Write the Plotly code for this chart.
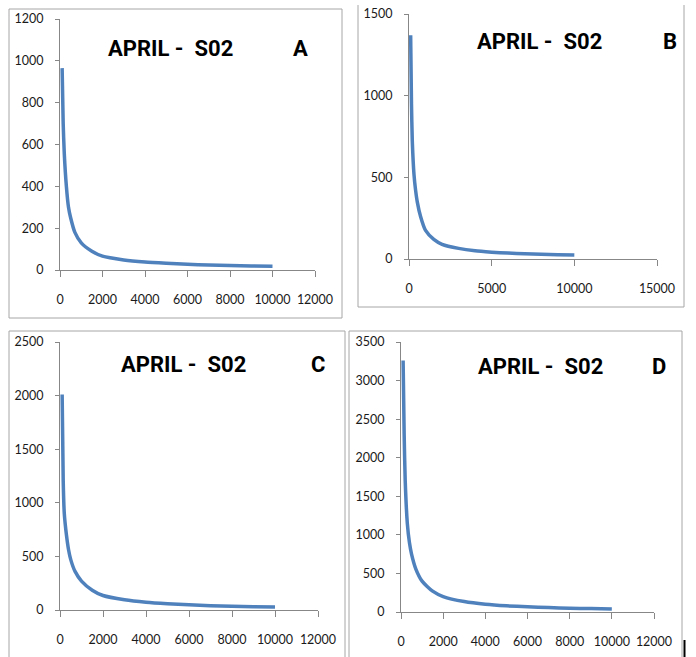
import plotly.graph_objects as go

W, H = 696, 657

# ---- data ----
rank = [100, 150, 200, 300, 400, 500, 700, 1000, 1500, 2000, 3000, 4000, 5000, 6000, 7000, 8000, 9000, 10000]
values_A = [965, 700, 560, 400, 300, 250, 180, 130, 90, 66, 48, 38, 32, 27, 24, 21, 19, 18]
values_B = [1370, 950, 720, 520, 420, 350, 260, 175, 120, 90, 65, 50, 42, 36, 32, 29, 26, 24]
values_C = [2010, 1200, 900, 700, 560, 470, 360, 270, 185, 135, 95, 72, 58, 48, 40, 35, 30, 27]
values_D = [3260, 2300, 1700, 1150, 900, 750, 560, 400, 270, 200, 135, 100, 80, 67, 57, 50, 44, 38]
panel_labels = ["A", "B", "C", "D"]
title_text = "APRIL -\u00a0\u00a0S02"

x_ranges = [[0, 12000], [0, 15000], [0, 12000], [0, 12000]]
x_dticks = [2000, 5000, 2000, 2000]
y_ranges = [[0, 1200], [0, 1500], [0, 2500], [0, 3500]]
y_dticks = [200, 500, 500, 500]

# ---- layout geometry (pixels) ----
px = lambda v: v / W
py = lambda v: 1 - v / H
plot_boxes = [  # left, right, top, bottom in pixels
    (60, 315, 19, 270),
    (409, 657, 14, 259),
    (60, 318, 342, 610),
    (401, 654, 342, 612),
]
title_pos = [(170, 48), (539, 41), (183, 364), (540, 366)]
letter_pos = [(300, 48), (670, 41), (318, 364), (659, 366)]

LINE = "#4F81BD"
AXIS = "#878787"
BORDER = "#A6A6A6"
TICKFONT = dict(family="Lato, Open Sans, sans-serif", size=12.5, color="#1a1a1a")
TITLEFONT = dict(family="Roboto, sans-serif", size=22, color="#000000")

fig = go.Figure()
series = [values_A, values_B, values_C, values_D]
layout = {}
for i, (vals, box) in enumerate(zip(series, plot_boxes)):
    n = "" if i == 0 else str(i + 1)
    fig.add_trace(go.Scatter(
        x=rank, y=vals, mode="lines", line=dict(color=LINE, width=3.5, shape="spline", smoothing=0.6),
        xaxis="x" + n, yaxis="y" + n, showlegend=False, hoverinfo="x+y"))
    l, r, t, b = box
    layout["xaxis" + n] = dict(
        domain=[px(l), px(r)], range=x_ranges[i], dtick=x_dticks[i], tick0=0, tickformat="d",
        anchor="y" + n, showgrid=False, zeroline=False, showline=True, linecolor=AXIS, linewidth=1,
        ticks="outside", ticklen=6, tickcolor=AXIS, tickfont=TICKFONT, ticklabelstandoff=12,
        automargin=False, fixedrange=True)
    layout["yaxis" + n] = dict(
        domain=[py(b), py(t)], range=y_ranges[i], dtick=y_dticks[i], tick0=0, tickformat="d",
        anchor="x" + n, showgrid=False, zeroline=False, showline=True, linecolor=AXIS, linewidth=1,
        ticks="outside", ticklen=4, tickcolor=AXIS, tickfont=TICKFONT, ticklabelstandoff=9,
        automargin=False, fixedrange=True)

annotations = []
for i in range(4):
    tx, ty = title_pos[i]
    lx, ly = letter_pos[i]
    annotations.append(dict(x=px(tx), y=py(ty), xref="paper", yref="paper", text="<b>%s</b>" % title_text,
                            showarrow=False, font=TITLEFONT, xanchor="center", yanchor="middle"))
    annotations.append(dict(x=px(lx), y=py(ly), xref="paper", yref="paper", text="<b>%s</b>" % panel_labels[i],
                            showarrow=False, font=TITLEFONT, xanchor="center", yanchor="middle"))

def seg(x0, y0, x1, y1, color=BORDER, width=1):
    return dict(type="line", xref="paper", yref="paper", x0=px(x0), y0=py(y0), x1=px(x1), y1=py(y1),
                line=dict(color=color, width=width), layer="below")

shapes = []
# panel A frame
shapes += [seg(9, 9, 342, 9), seg(9, 318, 342, 318), seg(9, 9, 9, 318), seg(342, 9, 342, 318)]
# panel B frame (top cropped)
shapes += [seg(358, 5, 358, 307), seg(684, 5, 684, 307), seg(358, 307, 684, 307)]
# panel C frame (bottom cropped)
shapes += [seg(9, 331, 345, 331), seg(9, 331, 9, 657), seg(345, 331, 345, 657)]
# panel D frame (bottom cropped)
shapes += [seg(349, 331, 682, 331), seg(349, 331, 349, 657), seg(682, 331, 682, 657)]
# stray black mark at bottom right
shapes += [seg(684.5, 640, 684.5, 657, color="#000000", width=2)]

fig.update_layout(
    template="none",
    width=W, height=H, margin=dict(l=0, r=0, t=0, b=0, pad=0),
    paper_bgcolor="white", plot_bgcolor="white",
    annotations=annotations, shapes=shapes, **layout)

fig.write_html("out.html", config={"displayModeBar": False},
               post_script="document.body.style.margin='0';document.body.style.overflow='hidden';")
